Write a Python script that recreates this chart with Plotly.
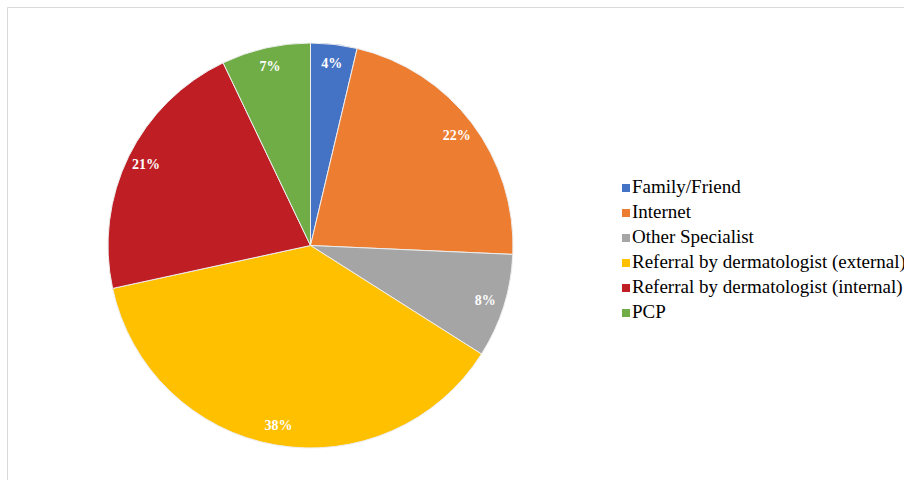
import plotly.graph_objects as go

labels = ["Family/Friend", "Internet", "Other Specialist",
          "Referral by dermatologist (external)",
          "Referral by dermatologist (internal)", "PCP"]
values = [3.7, 22.0, 8.3, 37.6, 21.3, 7.1]
colors = ["#4472C4", "#ED7D31", "#A5A5A5", "#FFC000", "#BE1E24", "#70AD47"]

W, H = 904, 480
cx, cy, r = 310.5, 245.5, 202.5
dom_x = [(cx - r) / W, (cx + r) / W]
dom_y = [1 - (cy + r) / H, 1 - (cy - r) / H]

SERIF = "Times New Roman, Liberation Serif, DejaVu Serif, serif"
label_font = dict(family=SERIF, size=14, color="white", weight="bold")

fig = go.Figure()
fig.add_trace(go.Pie(
    labels=labels, values=values, sort=False, direction="clockwise", rotation=0,
    marker=dict(colors=colors, line=dict(color="#EDEDED", width=1)),
    textinfo="none", hoverinfo="label+percent",
    domain=dict(x=dom_x, y=dom_y), showlegend=False,
))
fig.add_trace(go.Pie(
    labels=labels, values=values, sort=False, direction="clockwise", rotation=0,
    hole=0.81,
    marker=dict(colors=["rgba(0,0,0,0)"] * len(values), line=dict(width=0)),
    texttemplate="%{percent:.0%}", textposition="inside",
    insidetextorientation="horizontal",
    textfont=label_font, insidetextfont=label_font,
    domain=dict(x=dom_x, y=dom_y), showlegend=False, hoverinfo="skip",
))

# legend drawn as a marker+text series on a hidden axis pair
n = len(labels)
fig.add_trace(go.Scatter(
    x=[0] * n, y=list(range(n - 1, -1, -1)),
    mode="markers+text", text=labels, textposition="middle right",
    marker=dict(symbol="square", size=8, color=colors),
    textfont=dict(family=SERIF, size=19, color="black"),
    cliponaxis=False, showlegend=False, hoverinfo="skip",
    xaxis="x", yaxis="y",
))

step = 25
top_px = 188 - step / 2
bot_px = top_px + step * n

fig.update_layout(
    width=W, height=H,
    margin=dict(l=0, r=0, t=0, b=0, autoexpand=False),
    paper_bgcolor="white", plot_bgcolor="rgba(0,0,0,0)",
    font=dict(family=SERIF),
    showlegend=False,
    xaxis=dict(domain=[626 / W, 1], range=[0, 1], visible=False, fixedrange=True),
    yaxis=dict(domain=[1 - bot_px / H, 1 - top_px / H], range=[-0.5, n - 0.5],
               visible=False, fixedrange=True),
    shapes=[dict(type="rect", xref="paper", yref="paper",
                 x0=7.5 / W, x1=1.05, y0=-0.05, y1=1 - 7.5 / H,
                 line=dict(color="#D9D9D9", width=1))],
)
fig.write_html("out.html")
